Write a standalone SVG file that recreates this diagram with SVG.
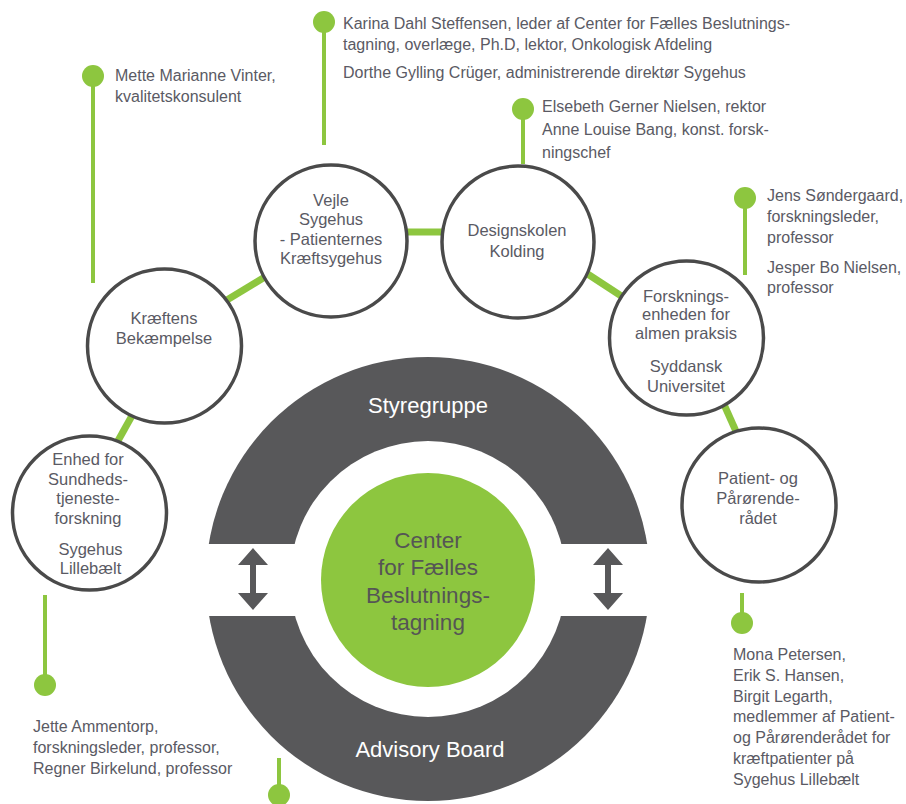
<svg xmlns="http://www.w3.org/2000/svg" width="906" height="804" viewBox="0 0 906 804">
<style>
.lbl{font-family:'Liberation Sans',Arial,sans-serif;font-size:16px;fill:#5a5a64}
.nt{font-family:'Liberation Sans',Arial,sans-serif;font-size:16.5px;fill:#5a5a64;text-anchor:middle}
.node{fill:#fff;stroke:#4a4a4a;stroke-width:3.5}
.link{stroke:#8dc63f;stroke-width:7;fill:none}
.stem{stroke:#8dc63f;stroke-width:4}
.dot{fill:#8dc63f}
.ringt{font-family:'Liberation Sans',Arial,sans-serif;font-size:22px;fill:#fff;text-anchor:middle}
.coret{font-family:'Liberation Sans',Arial,sans-serif;font-size:22.5px;fill:#555;text-anchor:middle}
.arrow{fill:#58585a}
</style>
<rect width="906" height="804" fill="#fff"/>

<g id="connectors">
  <line class="link" x1="395" y1="232" x2="455" y2="232"/>
  <line class="link" x1="217" y1="306" x2="273" y2="272"/>
  <line class="link" x1="110" y1="455" x2="138" y2="405"/>
  <line class="link" x1="580" y1="269" x2="632" y2="303"/>
  <line class="link" x1="722" y1="400" x2="739" y2="438"/>
</g>

<g id="center">
  <circle cx="428" cy="579" r="222" fill="#58585a"/>
  <circle cx="428" cy="579" r="138" fill="#fff"/>
  <rect x="200" y="544" width="456" height="72" fill="#fff"/>
  <circle cx="428" cy="580" r="107" fill="#8dc63f"/>
  <path class="arrow" d="M253 548 L268 565 L256 565 L256 593 L268 593 L253 610 L238 593 L250 593 L250 565 L238 565 Z"/>
  <path class="arrow" d="M608 548 L623 565 L611 565 L611 593 L623 593 L608 610 L593 593 L605 593 L605 565 L593 565 Z"/>
  <text class="ringt" x="428" y="413">Styregruppe</text>
  <text class="ringt" x="430" y="757">Advisory Board</text>
  <text class="coret" x="428" y="548">Center</text>
  <text class="coret" x="428" y="575">for Fælles</text>
  <text class="coret" x="428" y="603">Beslutnings-</text>
  <text class="coret" x="428" y="630">tagning</text>
</g>

<g id="node-vejle">
  <circle class="node" cx="331" cy="241" r="76"/>
  <text class="nt" x="331" y="206">Vejle</text>
  <text class="nt" x="331" y="225">Sygehus</text>
  <text class="nt" x="331" y="244.5">- Patienternes</text>
  <text class="nt" x="331" y="264">Kræftsygehus</text>
</g>

<g id="node-designskolen">
  <circle class="node" cx="518" cy="242" r="76"/>
  <text class="nt" x="517" y="236">Designskolen</text>
  <text class="nt" x="517" y="257">Kolding</text>
</g>

<g id="node-kraeftens">
  <circle class="node" cx="164.5" cy="346" r="77"/>
  <text class="nt" x="164" y="324">Kræftens</text>
  <text class="nt" x="164" y="343.5">Bekæmpelse</text>
</g>

<g id="node-enhed">
  <circle class="node" cx="89.5" cy="513" r="77"/>
  <text class="nt" x="88" y="465">Enhed for</text>
  <text class="nt" x="88" y="484.5">Sundheds-</text>
  <text class="nt" x="88" y="504">tjeneste-</text>
  <text class="nt" x="88" y="523.5">forskning</text>
  <text class="nt" x="90.5" y="555">Sygehus</text>
  <text class="nt" x="90.5" y="574">Lillebælt</text>
</g>

<g id="node-forskning">
  <circle class="node" cx="686.5" cy="338" r="77"/>
  <text class="nt" x="686" y="301.5">Forsknings-</text>
  <text class="nt" x="686" y="320">enheden for</text>
  <text class="nt" x="686" y="338.5">almen praksis</text>
  <text class="nt" x="686" y="371.5">Syddansk</text>
  <text class="nt" x="686" y="391.5">Universitet</text>
</g>

<g id="node-patient">
  <circle class="node" cx="759" cy="505" r="77"/>
  <text class="nt" x="758" y="484">Patient- og</text>
  <text class="nt" x="758" y="504">Pårørende-</text>
  <text class="nt" x="758" y="524">rådet</text>
</g>

<g id="pin-mette">
  <line class="stem" x1="93" y1="76" x2="93" y2="283"/>
  <circle class="dot" cx="93" cy="76" r="11"/>
  <text class="lbl" x="115" y="81">Mette Marianne Vinter,</text>
  <text class="lbl" x="115" y="102">kvalitetskonsulent</text>
</g>

<g id="pin-karina">
  <line class="stem" x1="324" y1="22" x2="324" y2="145"/>
  <circle class="dot" cx="324" cy="22" r="11"/>
  <text class="lbl" x="343" y="29">Karina Dahl Steffensen, leder af Center for Fælles Beslutnings-</text>
  <text class="lbl" x="343" y="50">tagning, overlæge, Ph.D, lektor, Onkologisk Afdeling</text>
  <text class="lbl" x="343" y="77.5">Dorthe Gylling Crüger, administrerende direktør Sygehus</text>
</g>

<g id="pin-elsebeth">
  <line class="stem" x1="523" y1="109" x2="523" y2="164"/>
  <circle class="dot" cx="523" cy="109" r="11"/>
  <text class="lbl" x="542" y="111.5">Elsebeth Gerner Nielsen, rektor</text>
  <text class="lbl" x="542" y="134.5">Anne Louise Bang, konst. forsk-</text>
  <text class="lbl" x="542" y="157.5">ningschef</text>
</g>

<g id="pin-jens">
  <line class="stem" x1="745" y1="198" x2="745" y2="275"/>
  <circle class="dot" cx="745" cy="198" r="11"/>
  <text class="lbl" x="767" y="201">Jens Søndergaard,</text>
  <text class="lbl" x="767" y="222">forskningsleder,</text>
  <text class="lbl" x="767" y="243">professor</text>
  <text class="lbl" x="767" y="272.5">Jesper Bo Nielsen,</text>
  <text class="lbl" x="767" y="293">professor</text>
</g>

<g id="pin-jette">
  <line class="stem" x1="45" y1="595" x2="45" y2="685"/>
  <circle class="dot" cx="45" cy="685" r="11"/>
  <text class="lbl" x="33" y="731.5">Jette Ammentorp,</text>
  <text class="lbl" x="33" y="752.5">forskningsleder, professor,</text>
  <text class="lbl" x="33" y="773.5">Regner Birkelund, professor</text>
</g>

<g id="pin-advisory">
  <line class="stem" x1="279" y1="758" x2="279" y2="795"/>
  <circle class="dot" cx="279" cy="795" r="11"/>
</g>

<g id="pin-mona">
  <line class="stem" x1="742" y1="593" x2="742" y2="623"/>
  <circle class="dot" cx="742" cy="623" r="11"/>
  <text class="lbl" x="733" y="660">Mona Petersen,</text>
  <text class="lbl" x="733" y="681">Erik S. Hansen,</text>
  <text class="lbl" x="733" y="701.5">Birgit Legarth,</text>
  <text class="lbl" x="733" y="722">medlemmer af Patient-</text>
  <text class="lbl" x="733" y="743">og Pårørenderådet for</text>
  <text class="lbl" x="733" y="764">kræftpatienter på</text>
  <text class="lbl" x="733" y="785">Sygehus Lillebælt</text>
</g>
</svg>
